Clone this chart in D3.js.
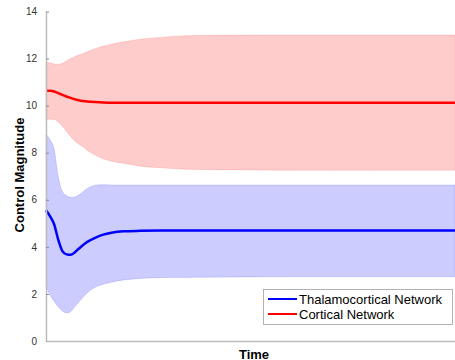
<!DOCTYPE html>
<html>
<head>
<meta charset="utf-8">
<script src="https://cdn.jsdelivr.net/npm/d3@7"></script>
<style>
  body { margin: 0; background: #fff; }
  svg { display: block; font-family: "Liberation Sans", Arial, sans-serif; }
</style>
</head>
<body>
<svg id="chart" width="455" height="360"></svg>
<script>
// Time samples (arbitrary units)
const time = [0, 1, 2, 3, 4, 5, 6, 7, 8, 9, 10, 12, 14, 16, 19, 23, 28, 34, 40, 50, 60, 70, 80, 90, 100];

// Cortical network: mean and band bounds
const corticalMean  = [10.63, 10.63, 10.60, 10.53, 10.46, 10.39, 10.33, 10.27, 10.23, 10.20, 10.18, 10.15, 10.13, 10.12, 10.12, 10.12, 10.12, 10.12, 10.12, 10.12, 10.12, 10.12, 10.12, 10.12, 10.12];
const corticalUpper = [11.84, 11.82, 11.77, 11.76, 11.80, 11.90, 12.00, 12.08, 12.15, 12.21, 12.28, 12.42, 12.53, 12.61, 12.71, 12.82, 12.90, 12.97, 12.99, 13.00, 13.00, 13.00, 13.00, 13.00, 13.00];
const corticalLower = [9.42, 9.42, 9.41, 9.30, 9.12, 8.90, 8.70, 8.50, 8.37, 8.25, 8.12, 7.90, 7.74, 7.64, 7.55, 7.43, 7.36, 7.30, 7.28, 7.27, 7.26, 7.26, 7.26, 7.26, 7.26];

// Thalamocortical network: mean and band bounds
const thalMean  = [5.56, 5.30, 4.95, 4.30, 3.82, 3.68, 3.66, 3.76, 3.92, 4.07, 4.20, 4.38, 4.52, 4.60, 4.66, 4.68, 4.69, 4.69, 4.69, 4.69, 4.69, 4.69, 4.69, 4.69, 4.69];
const thalUpper = [8.79, 8.55, 8.15, 6.98, 6.35, 6.18, 6.11, 6.12, 6.20, 6.33, 6.47, 6.62, 6.64, 6.63, 6.63, 6.63, 6.63, 6.63, 6.63, 6.63, 6.63, 6.63, 6.63, 6.63, 6.63];
const thalLower = [2.33, 1.95, 1.68, 1.45, 1.27, 1.19, 1.24, 1.45, 1.65, 1.85, 2.03, 2.28, 2.41, 2.50, 2.59, 2.66, 2.69, 2.70, 2.71, 2.72, 2.73, 2.73, 2.73, 2.73, 2.73];

const yTicks = [0, 2, 4, 6, 8, 10, 12, 14];
const legendLabels = ["Thalamocortical Network", "Cortical Network"];

const svg = d3.select("#chart");
const plotLeft = 46, plotRight = 455, plotTop = 11.5, plotBottom = 341;

const x = d3.scaleLinear().domain([0, 100]).range([plotLeft, plotRight]);
const y = d3.scaleLinear().domain([0, 14]).range([plotBottom, plotTop]);

const area = (lo, hi) => d3.area()
  .x((d, i) => x(time[i]))
  .y0((d, i) => y(lo[i]))
  .y1((d, i) => y(hi[i]))
  .curve(d3.curveMonotoneX)(time);

const line = (vals) => d3.line()
  .x((d, i) => x(time[i]))
  .y((d, i) => y(vals[i]))
  .curve(d3.curveMonotoneX)(time);

// Shaded bands
svg.append("path").attr("d", area(corticalLower, corticalUpper))
  .attr("fill", "#ffcccc").attr("stroke", "rgba(255,0,0,0.12)").attr("stroke-width", 1);
svg.append("path").attr("d", area(thalLower, thalUpper))
  .attr("fill", "#ccccff").attr("stroke", "rgba(0,0,255,0.12)").attr("stroke-width", 1);

// Mean curves
svg.append("path").attr("d", line(corticalMean))
  .attr("fill", "none").attr("stroke", "#ff0000").attr("stroke-width", 2.5);
svg.append("path").attr("d", line(thalMean))
  .attr("fill", "none").attr("stroke", "#0000ff").attr("stroke-width", 2.5);

// Y axis
const yAxis = d3.axisLeft(y).tickValues(yTicks).tickSize(-3).tickPadding(9).tickSizeOuter(0);
const gy = svg.append("g").attr("transform", `translate(${plotLeft},0)`).call(yAxis);
gy.select(".domain").attr("stroke", "#bdbdbd").attr("stroke-width", 1.5);
gy.selectAll(".tick line").attr("stroke", "#8c8c8c").attr("stroke-width", 1);
gy.selectAll(".tick text").attr("fill", "#333").style("font-size", "10px")
  .style("font-family", "'Liberation Sans', Arial, sans-serif");

// X axis (no ticks)
const xAxis = d3.axisBottom(x).tickValues([]).tickSizeOuter(0);
const gx = svg.append("g").attr("transform", `translate(0,${plotBottom})`).call(xAxis);
gx.select(".domain").attr("stroke", "#bdbdbd").attr("stroke-width", 1.5);

// Axis titles
svg.append("text").attr("x", 254).attr("y", 358.5).attr("text-anchor", "middle")
  .attr("font-weight", "bold").attr("font-size", 13).attr("fill", "#000").text("Time");
svg.append("text").attr("transform", "translate(24,175) rotate(-90)").attr("text-anchor", "middle")
  .attr("font-weight", "bold").attr("font-size", 13).attr("fill", "#000").text("Control Magnitude");

// Legend
const lg = svg.append("g");
lg.append("rect").attr("x", 263.5).attr("y", 289.5).attr("width", 189).attr("height", 35)
  .attr("fill", "#fff").attr("stroke", "#a0a0a0").attr("stroke-width", 0.8);
const legendColors = ["#0000ff", "#ff0000"];
legendLabels.forEach((lab, i) => {
  const yy = 299 + i * 15;
  lg.append("line").attr("x1", 268).attr("x2", 297).attr("y1", yy).attr("y2", yy)
    .attr("stroke", legendColors[i]).attr("stroke-width", 2);
  lg.append("text").attr("x", 299).attr("y", yy + 4.5).attr("font-size", 13)
    .attr("fill", "#000").text(lab);
});
</script>
</body>
</html>
